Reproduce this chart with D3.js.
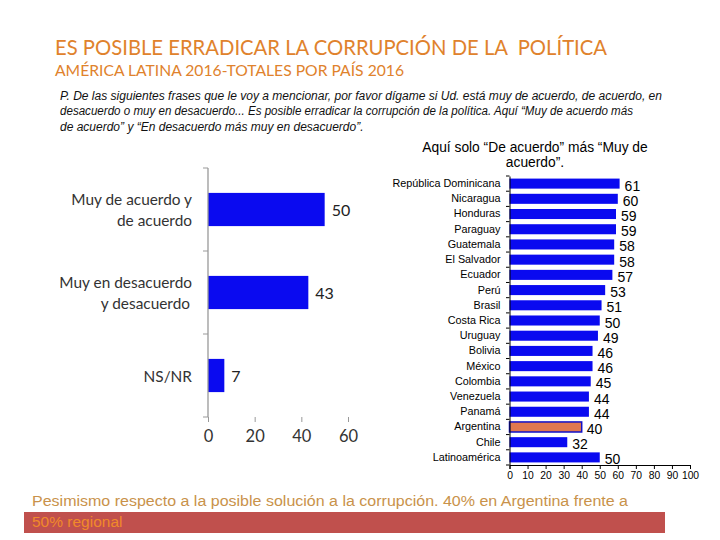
<!DOCTYPE html>
<html><head><meta charset="utf-8">
<script src="https://cdn.jsdelivr.net/npm/d3@7"></script>
<style>body{margin:0;background:#fff} text{white-space:pre}</style></head>
<body><svg id="c" width="720" height="540"></svg>
<script>
const summaryCats = ["Muy de acuerdo y|de acuerdo", "Muy en desacuerdo|y desacuerdo", "NS/NR"];
const summaryVals = [50, 43, 7];
const summaryTicks = [0, 20, 40, 60];
const countries = ["República Dominicana","Nicaragua","Honduras","Paraguay","Guatemala","El Salvador","Ecuador","Perú","Brasil","Costa Rica","Uruguay","Bolivia","México","Colombia","Venezuela","Panamá","Argentina","Chile","Latinoamérica"];
const countryVals = [61,60,59,59,58,58,57,53,51,50,49,46,46,45,44,44,40,32,50];
const countryTicks = [0,10,20,30,40,50,60,70,80,90,100];

const svg = d3.select("#c");
const orange = "#E0822C";
svg.append("text").attr("x",55).attr("y",55).attr("font-family","Lato").attr("font-size",20.3).attr("fill",orange)
  .attr("textLength",552).attr("lengthAdjust","spacingAndGlyphs")
  .text("ES POSIBLE ERRADICAR LA CORRUPCIÓN DE LA  POLÍTICA");
svg.append("text").attr("x",55).attr("y",76).attr("font-family","Lato").attr("font-size",15.5).attr("fill",orange)
  .attr("textLength",349).attr("lengthAdjust","spacingAndGlyphs")
  .text("AMÉRICA LATINA 2016-TOTALES POR PAÍS 2016");
const q = ["P. De las siguientes frases que le voy a mencionar, por favor dígame si Ud. está muy de acuerdo, de acuerdo, en",
  "desacuerdo o muy en desacuerdo... Es posible erradicar la corrupción de la política. Aquí “Muy de acuerdo más",
  "de acuerdo” y “En desacuerdo más muy en desacuerdo”."];
const qLen = [602, 573, 0];
q.forEach((t,i)=>{const el=svg.append("text").attr("x",60).attr("y",100+i*15.3).attr("font-family","Liberation Sans, Arial")
  .attr("font-style","italic").attr("font-size",12).attr("fill","#111").text(t);
  if(qLen[i]) el.attr("textLength",qLen[i]).attr("lengthAdjust","spacingAndGlyphs");});

// Left chart
const x1 = d3.scaleLinear().domain([0,60]).range([208,348]);
const y1 = d3.scaleBand().domain(summaryCats).range([168,417]).paddingInner(0.6).paddingOuter(0.3);
const gl = svg.append("g");
gl.selectAll("rect").data(summaryVals).join("rect")
  .attr("x",x1(0)).attr("y",(d,i)=>y1(summaryCats[i])).attr("width",d=>x1(d)-x1(0)).attr("height",y1.bandwidth()).attr("fill","#0A0AF0");
gl.selectAll("text.v").data(summaryVals).join("text").attr("class","v")
  .attr("x",d=>x1(d)+7).attr("y",(d,i)=>y1(summaryCats[i])+y1.bandwidth()/2+6)
  .attr("font-family","Lato").attr("font-size",16).attr("fill","#222").text(d=>d);
summaryCats.forEach((c,i)=>{
  const lines=c.split("|"); const cy=y1(c)+y1.bandwidth()/2;
  lines.forEach((l,j)=>gl.append("text").attr("x",l.startsWith("y ")?190:192).attr("text-anchor","end")
    .attr("y",cy+6+(j-(lines.length-1)/2)*21).attr("font-family","Lato").attr("font-size",15.4).attr("fill","#333").text(l));
});
const bandStep = (417-168)/3;
gl.append("line").attr("x1",208).attr("x2",208).attr("y1",168).attr("y2",417).attr("stroke","#999").attr("stroke-width",1.3);
[0,1,2,3].forEach(i=>gl.append("line").attr("x1",203).attr("x2",208).attr("y1",168+i*bandStep).attr("y2",168+i*bandStep).attr("stroke","#999"));
const ax1 = gl.append("g").attr("transform","translate(0,417)").call(d3.axisBottom(x1).tickValues(summaryTicks).tickSize(5).tickPadding(8));
ax1.select(".domain").remove();
ax1.selectAll("line").attr("stroke","#999");
ax1.selectAll("text").attr("font-family","Lato").attr("font-size",16.5).attr("fill","#333");

// Right chart
svg.append("text").attr("x",535).attr("y",152).attr("text-anchor","middle").attr("font-family","Liberation Sans, Arial").attr("font-size",13.8).attr("fill","#000")
  .text("Aquí solo “De acuerdo” más “Muy de");
svg.append("text").attr("x",535).attr("y",167).attr("text-anchor","middle").attr("font-family","Liberation Sans, Arial").attr("font-size",13.8).attr("fill","#000")
  .text("acuerdo”.");
const x2 = d3.scaleLinear().domain([0,100]).range([509.5,690]);
const y2 = d3.scaleBand().domain(countries).range([176,465]).paddingInner(0.34).paddingOuter(0.17);
const gr = svg.append("g");
gr.selectAll("rect").data(countryVals).join("rect")
  .attr("x",x2(0)).attr("y",(d,i)=>y2(countries[i])).attr("width",d=>x2(d)-x2(0)).attr("height",y2.bandwidth())
  .attr("fill",(d,i)=>countries[i]==="Argentina"?"#E0784F":"#0A0AF0")
  .attr("stroke",(d,i)=>countries[i]==="Argentina"?"#1010C8":"none").attr("stroke-width",1.5);
gr.selectAll("text.v").data(countryVals).join("text").attr("class","v")
  .attr("x",d=>x2(d)+5).attr("y",(d,i)=>y2(countries[i])+y2.bandwidth()/2+7)
  .attr("font-family","Liberation Sans, Arial").attr("font-size",14).attr("fill","#000").text(d=>d);
const ay2 = gr.append("g").attr("transform","translate(509.5,0)").call(d3.axisLeft(y2).tickSize(0).tickPadding(9));
ay2.select(".domain").attr("stroke","#000");
ay2.selectAll("text").attr("font-family","Liberation Sans, Arial").attr("font-size",10.8).attr("fill","#000");
countries.concat([null]).forEach((c,i)=>gr.append("line").attr("x1",506).attr("x2",509.5)
  .attr("y1",176+i*(289/19)).attr("y2",176+i*(289/19)).attr("stroke","#000"));
const ax2 = gr.append("g").attr("transform","translate(0,465)").call(d3.axisBottom(x2).tickValues(countryTicks).tickSize(4).tickPadding(3));
ax2.select(".domain").attr("stroke","#000");
ax2.selectAll("text").attr("font-family","Liberation Sans, Arial").attr("font-size",10.3).attr("fill","#000");

// Footer
svg.append("rect").attr("x",24).attr("y",512).attr("width",641).attr("height",21).attr("fill","#C0504D");
svg.append("text").attr("x",32).attr("y",506).attr("font-family","Liberation Sans, Arial").attr("font-size",15.5).attr("fill","#C9924A")
  .attr("textLength",596).attr("lengthAdjust","spacingAndGlyphs")
  .text("Pesimismo respecto a la posible solución a la corrupción. 40% en Argentina frente a");
svg.append("text").attr("x",32).attr("y",527).attr("font-family","Liberation Sans, Arial").attr("font-size",15.5).attr("fill","#F08A2A")
  .text("50% regional");
</script></body></html>
